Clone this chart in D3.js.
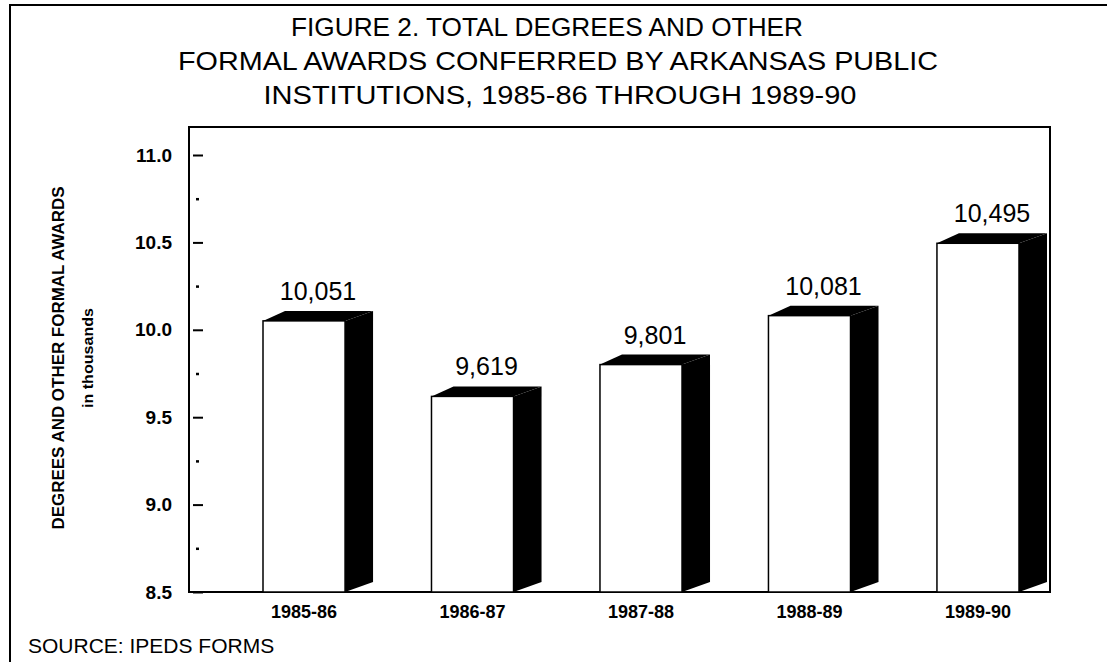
<!DOCTYPE html>
<html>
<head>
<meta charset="utf-8">
<script src="https://cdn.jsdelivr.net/npm/d3@7"></script>
<style>
  body { margin: 0; background: #fff; }
  svg { display: block; font-family: "Liberation Sans", Arial, sans-serif; }
</style>
</head>
<body>
<script>
// data
const years = ["1985-86", "1986-87", "1987-88", "1988-89", "1989-90"];
const awards = [10051, 9619, 9801, 10081, 10495];
const yTicks = [8.5, 9.0, 9.5, 10.0, 10.5, 11.0];
const yMinor = [8.75, 9.25, 9.75, 10.25, 10.75];
const titleLines = [
  "FIGURE 2. TOTAL DEGREES AND OTHER",
  "FORMAL AWARDS CONFERRED BY ARKANSAS PUBLIC",
  "INSTITUTIONS, 1985-86 THROUGH 1989-90"
];
const titleWidths = [512, 760, 593];
const titleCenters = [547, 558, 560];

const W = 1107, H = 662;
const box = {left: 189, top: 127, right: 1050, bottom: 592};
const dx = 28, dy = 10; // 3d depth

const svg = d3.select("body").append("svg")
  .attr("width", W)
  .attr("height", H);

// outer frame (only top and left show)
svg.append("path")
  .attr("d", `M10,${H} V5 H${W}`)
  .attr("fill", "none")
  .attr("stroke", "#000")
  .attr("stroke-width", 2);

svg.append("g").selectAll("text")
  .data(titleLines)
  .join("text")
  .attr("x", (d, i) => titleCenters[i])
  .attr("y", (d, i) => 36 + i * 34)
  .attr("text-anchor", "middle")
  .attr("textLength", (d, i) => titleWidths[i])
  .attr("lengthAdjust", "spacingAndGlyphs")
  .style("font-size", "25px")
  .text(d => d);

const x = d3.scaleBand()
  .domain(years)
  .range([263, 1019])
  .paddingInner(0.513)
  .paddingOuter(0);

const y = d3.scaleLinear()
  .domain([8.5, 11.0])
  .range([box.bottom, 155]);

// plot box
svg.append("rect")
  .attr("x", box.left)
  .attr("y", box.top)
  .attr("width", box.right - box.left)
  .attr("height", box.bottom - box.top)
  .attr("fill", "none")
  .attr("stroke", "#000")
  .attr("stroke-width", 2);

// y axis, ticks drawn inside the box
const yAxis = d3.axisLeft(y)
  .tickValues(yTicks)
  .tickFormat(d3.format(".1f"))
  .tickSizeInner(10)
  .tickSizeOuter(0)
  .tickPadding(21);

const ga = svg.append("g")
  .attr("transform", "translate(203,0)")
  .call(yAxis);
ga.select(".domain").remove();
ga.selectAll("line").attr("stroke-width", 2);
ga.selectAll("text")
  .style("font-size", "19px")
  .style("font-weight", "bold")
  .attr("fill", "#000");

const gm = svg.append("g")
  .attr("transform", "translate(199,0)")
  .call(d3.axisLeft(y).tickValues(yMinor).tickFormat("").tickSizeInner(3).tickSizeOuter(0));
gm.select(".domain").remove();
gm.selectAll("line").attr("stroke-width", 2.5);

// bars
const bars = svg.append("g").selectAll("g")
  .data(years)
  .join("g");

const bw = x.bandwidth();

bars.append("rect")
  .attr("x", d => x(d))
  .attr("y", (d, i) => y(awards[i] / 1000))
  .attr("width", bw)
  .attr("height", (d, i) => box.bottom - y(awards[i] / 1000))
  .attr("fill", "#fff")
  .attr("stroke", "#000")
  .attr("stroke-width", 1.5);

// side face
bars.append("path")
  .attr("d", (d, i) => {
    const x1 = x(d) + bw, yt = y(awards[i] / 1000), yb = box.bottom;
    return `M${x1},${yt} L${x1 + dx},${yt - dy} L${x1 + dx},${yb - dy} L${x1},${yb} Z`;
  })
  .attr("fill", "#000");

// top face
bars.append("path")
  .attr("d", (d, i) => {
    const x0 = x(d), x1 = x(d) + bw, yt = y(awards[i] / 1000);
    return `M${x0},${yt} L${x0 + dx - 6},${yt - dy} L${x1 + dx},${yt - dy} L${x1},${yt} Z`;
  })
  .attr("fill", "#000");

// value labels
bars.append("text")
  .attr("x", d => x(d) + (bw + dx) / 2)
  .attr("y", (d, i) => y(awards[i] / 1000) - 21)
  .attr("text-anchor", "middle")
  .style("font-size", "25px")
  .text((d, i) => d3.format(",")(awards[i]));

// x labels
svg.append("g").selectAll("text")
  .data(years)
  .join("text")
  .attr("x", d => x(d) + bw / 2)
  .attr("y", 618)
  .attr("text-anchor", "middle")
  .style("font-size", "18px")
  .style("font-weight", "bold")
  .text(d => d);

// axis titles
svg.append("text")
  .attr("transform", "translate(64,358) rotate(-90)")
  .attr("text-anchor", "middle")
  .attr("textLength", 343)
  .attr("lengthAdjust", "spacingAndGlyphs")
  .style("font-size", "16px")
  .style("font-weight", "bold")
  .text("DEGREES AND OTHER FORMAL AWARDS");

svg.append("text")
  .attr("transform", "translate(93,358) rotate(-90)")
  .attr("text-anchor", "middle")
  .attr("textLength", 100)
  .attr("lengthAdjust", "spacingAndGlyphs")
  .style("font-size", "14px")
  .style("font-weight", "bold")
  .text("in thousands");

svg.append("text")
  .attr("x", 28)
  .attr("y", 653)
  .style("font-size", "21px")
  .text("SOURCE:  IPEDS FORMS");
</script>
</body>
</html>
